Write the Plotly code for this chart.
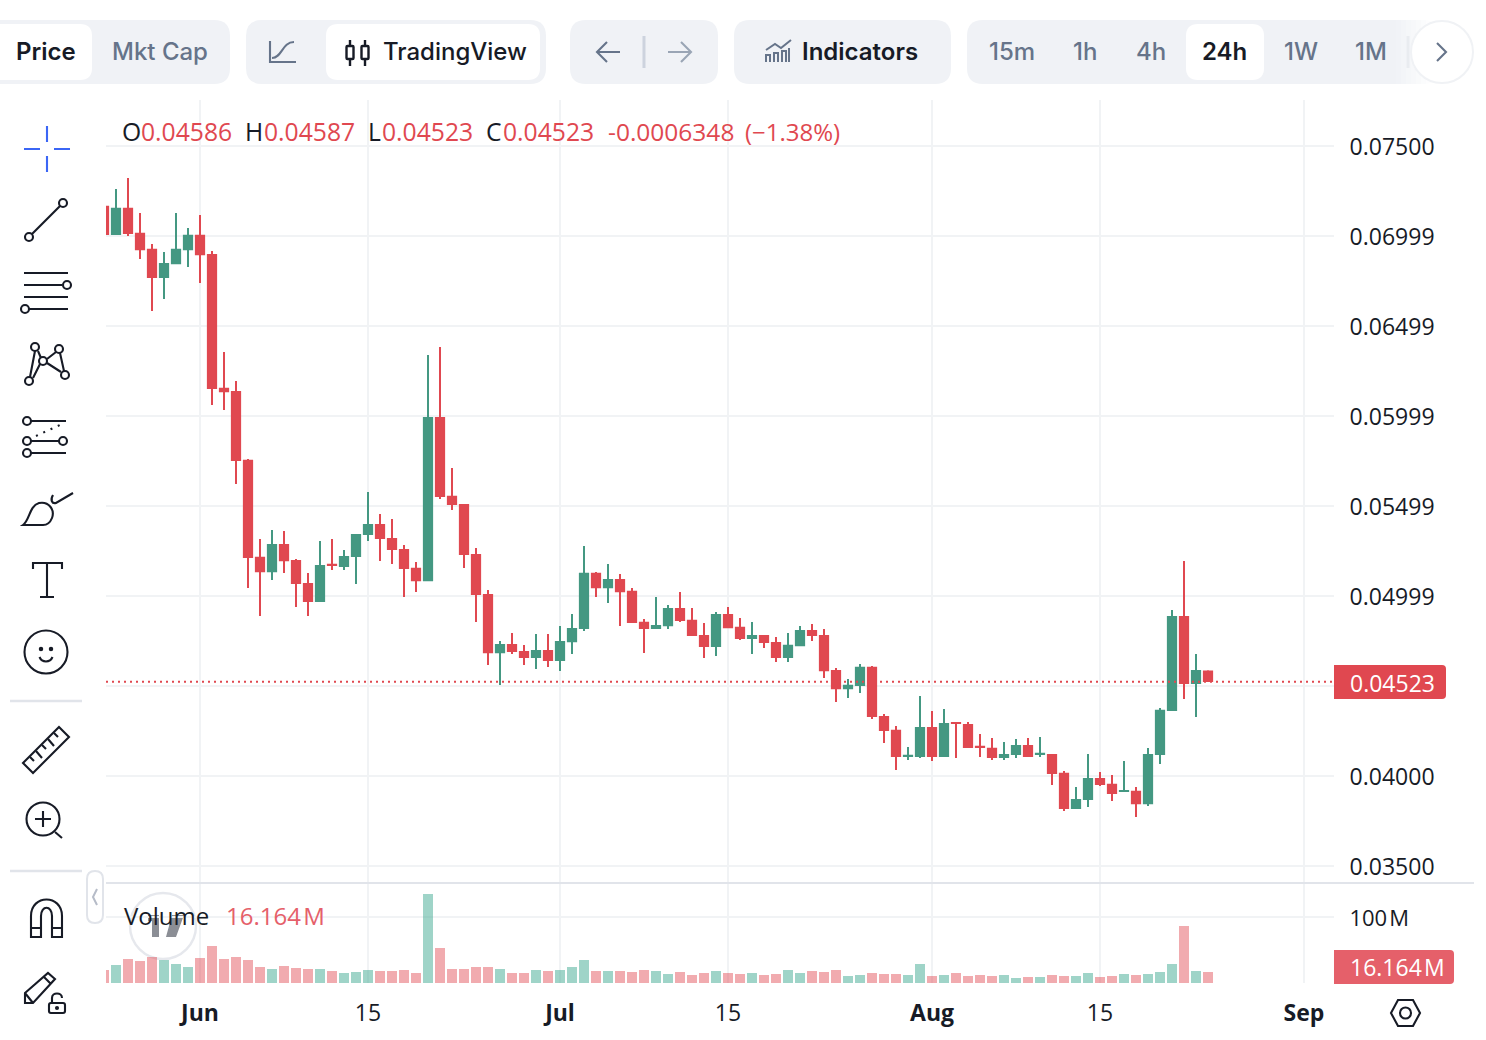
#!/usr/bin/env python3
"""Daily candlestick chart with a volume pane and the surrounding toolbar."""
import re

import numpy as np
import pandas as pd
import plotly.graph_objects as go
from plotly.subplots import make_subplots

WIDTH = 1486
HEIGHT = 1040

first_day = "2023-05-24"

opens = [
    0.07167, 0.07006, 0.07156, 0.07017, 0.06928, 0.06767, 0.06844, 0.06922, 0.07006, 0.06900,
    0.06156, 0.06139, 0.05756, 0.05217, 0.05133, 0.05289, 0.05200, 0.05072, 0.04967, 0.05178,
    0.05161, 0.05217, 0.05339, 0.05400, 0.05322, 0.05261, 0.05156, 0.05083, 0.05994, 0.05556,
    0.05511, 0.05233, 0.05011, 0.04683, 0.04733, 0.04694, 0.04656, 0.04700, 0.04639, 0.04744,
    0.04817, 0.05128, 0.05044, 0.05094, 0.05028, 0.04856, 0.04817, 0.04833, 0.04933, 0.04867,
    0.04783, 0.04717, 0.04900, 0.04828, 0.04761, 0.04783, 0.04744, 0.04656, 0.04722, 0.04811,
    0.04783, 0.04589, 0.04483, 0.04500, 0.04606, 0.04333, 0.04256, 0.04106, 0.04106, 0.04272,
    0.04106, 0.04300, 0.04289, 0.04167, 0.04156, 0.04100, 0.04117, 0.04172, 0.04117, 0.04122,
    0.04017, 0.03817, 0.03867, 0.03989, 0.03956, 0.03911, 0.03917, 0.03844, 0.04117, 0.04361,
    0.04889, 0.04511, 0.04586,
]
highs = [
    0.07167, 0.07261, 0.07322, 0.07128, 0.06956, 0.06911, 0.07128, 0.07044, 0.07117, 0.06917,
    0.06356, 0.06194, 0.05761, 0.05317, 0.05367, 0.05361, 0.05206, 0.05128, 0.05306, 0.05317,
    0.05256, 0.05344, 0.05578, 0.05456, 0.05428, 0.05283, 0.05189, 0.06339, 0.06383, 0.05711,
    0.05511, 0.05267, 0.05033, 0.04750, 0.04794, 0.04728, 0.04789, 0.04789, 0.04833, 0.04900,
    0.05278, 0.05133, 0.05178, 0.05122, 0.05044, 0.04872, 0.04994, 0.04950, 0.05022, 0.04933,
    0.04850, 0.04911, 0.04939, 0.04878, 0.04856, 0.04783, 0.04772, 0.04794, 0.04833, 0.04844,
    0.04817, 0.04600, 0.04539, 0.04622, 0.04611, 0.04344, 0.04278, 0.04161, 0.04444, 0.04361,
    0.04372, 0.04300, 0.04300, 0.04233, 0.04211, 0.04189, 0.04206, 0.04211, 0.04217, 0.04122,
    0.04028, 0.03939, 0.04122, 0.04022, 0.04006, 0.04083, 0.03939, 0.04156, 0.04378, 0.04922,
    0.05194, 0.04678, 0.04587,
]
lows = [
    0.07006, 0.07006, 0.07000, 0.06872, 0.06583, 0.06650, 0.06844, 0.06828, 0.06739, 0.06061,
    0.06033, 0.05622, 0.05044, 0.04889, 0.05089, 0.05128, 0.04939, 0.04889, 0.04967, 0.05144,
    0.05144, 0.05067, 0.05306, 0.05194, 0.05178, 0.04994, 0.05022, 0.05083, 0.05539, 0.05478,
    0.05156, 0.04856, 0.04617, 0.04506, 0.04678, 0.04617, 0.04594, 0.04606, 0.04583, 0.04678,
    0.04806, 0.04994, 0.04961, 0.04833, 0.04850, 0.04683, 0.04817, 0.04817, 0.04856, 0.04778,
    0.04656, 0.04667, 0.04822, 0.04756, 0.04678, 0.04711, 0.04633, 0.04633, 0.04722, 0.04750,
    0.04544, 0.04411, 0.04433, 0.04461, 0.04317, 0.04183, 0.04033, 0.04089, 0.04100, 0.04083,
    0.04106, 0.04100, 0.04156, 0.04106, 0.04089, 0.04089, 0.04100, 0.04106, 0.04106, 0.03950,
    0.03806, 0.03817, 0.03828, 0.03944, 0.03861, 0.03911, 0.03772, 0.03833, 0.04067, 0.04361,
    0.04428, 0.04328, 0.04523,
]
closes = [
    0.07006, 0.07156, 0.07011, 0.06922, 0.06767, 0.06850, 0.06928, 0.07006, 0.06894, 0.06150,
    0.06133, 0.05750, 0.05211, 0.05133, 0.05289, 0.05194, 0.05067, 0.04967, 0.05172, 0.05167,
    0.05222, 0.05344, 0.05400, 0.05317, 0.05256, 0.05150, 0.05083, 0.05994, 0.05550, 0.05506,
    0.05228, 0.05006, 0.04683, 0.04733, 0.04689, 0.04656, 0.04700, 0.04639, 0.04750, 0.04822,
    0.05128, 0.05044, 0.05094, 0.05022, 0.04850, 0.04817, 0.04839, 0.04933, 0.04861, 0.04778,
    0.04717, 0.04900, 0.04822, 0.04761, 0.04783, 0.04739, 0.04656, 0.04728, 0.04811, 0.04778,
    0.04583, 0.04483, 0.04506, 0.04606, 0.04328, 0.04250, 0.04106, 0.04117, 0.04272, 0.04106,
    0.04294, 0.04289, 0.04156, 0.04156, 0.04100, 0.04122, 0.04172, 0.04106, 0.04128, 0.04011,
    0.03817, 0.03872, 0.03989, 0.03950, 0.03900, 0.03922, 0.03844, 0.04122, 0.04367, 0.04889,
    0.04511, 0.04589, 0.04523,
]
# volume in millions
volumes = [
    19.7, 27.3, 36.4, 33.3, 39.4, 34.8, 28.8, 24.2, 37.9, 56.1,
    36.4, 39.4, 34.8, 24.2, 21.2, 25.8, 22.7, 21.2, 21.2, 18.2,
    15.2, 16.7, 19.7, 18.2, 18.2, 19.7, 15.2, 134.8, 53.0, 21.2,
    21.2, 24.2, 24.2, 21.2, 15.2, 15.2, 19.7, 18.2, 19.7, 24.2,
    34.8, 18.2, 18.2, 18.2, 16.7, 19.7, 18.2, 13.6, 16.7, 12.1,
    15.2, 18.2, 15.2, 13.6, 15.2, 12.1, 13.6, 19.7, 15.2, 18.2,
    16.7, 19.7, 10.6, 12.1, 15.2, 13.6, 13.6, 12.1, 28.8, 10.6,
    12.1, 15.2, 10.6, 12.1, 10.6, 12.1, 7.6, 9.1, 9.1, 12.1,
    10.6, 10.6, 15.2, 9.1, 10.6, 13.6, 12.1, 13.6, 16.7, 28.8,
    86.4, 18.2, 16.164,
]

price_ticks = [0.075, 0.07, 0.065, 0.06, 0.055, 0.05, 0.045, 0.04, 0.035]
price_labels = ["0.07500", "0.06999", "0.06499", "0.05999", "0.05499", "0.04999", "", "0.04000", "0.03500"]
date_ticks = ["2023-06-01", "2023-06-15", "2023-07-01", "2023-07-15", "2023-08-01", "2023-08-15", "2023-09-01"]
date_labels = ["<b>Jun</b>", "15", "<b>Jul</b>", "15", "<b>Aug</b>", "15", "<b>Sep</b>"]
last_price = 0.04523

TEAL = "#449882"
RED = "#E04850"
GRID = "#F1F3F5"
DARK = "#171B26"
MUTED = "#66748A"
PANEL = "#F0F2F6"
LINE = "#E1E4EA"
AXIS_FONT = "Open Sans"
UI_FONT = "Inter"

shapes = []
annotations = []


def px_path(d):
    """Turn an SVG path written in page pixels into paper coordinates."""
    def convert(m):
        return "{:.5f},{:.5f}".format(float(m[1]) / WIDTH, 1 - float(m[2]) / HEIGHT)
    return re.sub(r"(-?[\d.]+),(-?[\d.]+)", convert, d)


def path(d, color=DARK, width=2.1, fill=None, layer="above", dash=None):
    shapes.append(dict(
        type="path", xref="paper", yref="paper", path=px_path(d), layer=layer,
        line=dict(color=color, width=width, dash=dash), fillcolor=fill or "rgba(0,0,0,0)",
    ))


def box(x0, y0, x1, y1, r=0, fill=PANEL, color=None, width=0, layer="above", opacity=1):
    """Rounded rectangle; r can be a single radius."""
    d = ("M{a},{t} L{b},{t} Q{x1},{y0} {x1},{c} L{x1},{e} Q{x1},{y1} {b},{y1} "
         "L{a},{y1} Q{x0},{y1} {x0},{e} L{x0},{c} Q{x0},{y0} {a},{t} Z").format(
        a=x0 + r, b=x1 - r, t=y0, x0=x0, x1=x1, y0=y0, y1=y1, c=y0 + r, e=y1 - r)
    shapes.append(dict(
        type="path", xref="paper", yref="paper", path=px_path(d), layer=layer, opacity=opacity,
        line=dict(color=color or "rgba(0,0,0,0)", width=width), fillcolor=fill,
    ))


def circle(cx, cy, r, color=DARK, width=2.1, fill=None, layer="above"):
    shapes.append(dict(
        type="circle", xref="paper", yref="paper", layer=layer,
        x0=(cx - r) / WIDTH, x1=(cx + r) / WIDTH,
        y0=1 - (cy + r) / HEIGHT, y1=1 - (cy - r) / HEIGHT,
        line=dict(color=color, width=width), fillcolor=fill or "rgba(0,0,0,0)",
    ))


def label(x, y, text, size=24, color=DARK, family=UI_FONT, weight=None, anchor="left"):
    # annotations carry about 2px of padding on the left
    annotations.append(dict(
        xref="paper", yref="paper", x=(x - 2) / WIDTH, y=1 - y / HEIGHT, text=text,
        xanchor=anchor, yanchor="middle", showarrow=False,
        font=dict(size=size, color=color, family=family, weight=weight),
    ))


days = pd.date_range(first_day, periods=len(opens))

# The candle outline adds a pixel around each body, take it back off
inset = 0.00005
o = np.array(opens)
c = np.array(closes)
direction = np.sign(c - o)
body_open = o + direction * inset
body_close = c - direction * inset
bar_colors = ["rgba(64,170,145,0.5)" if d > 0 else "rgba(224,72,80,0.46)" for d in direction]

fig = make_subplots(rows=2, cols=1, shared_xaxes=True)

fig.add_trace(
    go.Candlestick(
        x=days, open=body_open, high=highs, low=lows, close=body_close,
        increasing=dict(line=dict(color=TEAL, width=2), fillcolor=TEAL),
        decreasing=dict(line=dict(color=RED, width=2), fillcolor=RED),
        whiskerwidth=0,
    ),
    row=1, col=1,
)
fig.add_trace(
    go.Bar(x=days, y=volumes, marker=dict(color=bar_colors, line=dict(width=0)), width=86400000 * 10 / 12),
    row=2, col=1,
)

# Toolbar
box(-14, 20, 230, 84, 16)
box(-10, 24, 92, 80, 12, fill="white")
label(16, 51.5, "Price", weight=600)
label(112, 51.5, "Mkt Cap", color=MUTED, weight=500)

box(246, 20, 546, 84, 16)
box(326, 24, 540, 80, 12, fill="white")
path("M270,41 L270,62 L296,62", color=MUTED)
path("M272,58 C282,58 282,42 294,42", color=MUTED)
path("M350,40 L350,66 M365,40 L365,66", width=2.4)
box(346.5, 46, 353.5, 59, 1, fill="white", color=DARK, width=2.4)
box(361.5, 46, 368.5, 59, 1, fill="white", color=DARK, width=2.4)
label(383, 51.5, "TradingView", weight=500)

box(570, 20, 718, 84, 16)
path("M620,52 L597,52 M607,42 L597,52 L607,62", color=MUTED)
path("M644,36 L644,68", color="#CDD3DE", width=3)
path("M668,52 L691,52 M681,42 L691,52 L681,62", color="#9AA5B5")

box(734, 20, 951, 84, 16)
path("M766,50 L775,44 L781,48 L791,40", color=MUTED, width=2)
path("M766,62 L766,55 L770,55 L770,62 M774,62 L774,53 L778,53 L778,62 "
     "M782,62 L782,51 L786,51 L786,62 M789,62 L789,48", color=MUTED, width=2)
label(802, 51.5, "Indicators", weight=600)

box(967, 20, 1440, 84, 16)
box(1186, 24, 1264, 80, 12, fill="white")
label(989, 51.5, "15m", color=MUTED, weight=500)
label(1073, 51.5, "1h", color=MUTED, weight=500)
label(1136, 51.5, "4h", color=MUTED, weight=500)
label(1202, 51.5, "24h", weight=600)
label(1284, 51.5, "1W", color=MUTED, weight=500)
label(1355, 51.5, "1M", color=MUTED, weight=500)
path("M1408,36 L1408,68", color="#DDE1E8", width=3)
# fade out on the right of the timeframe strip
for i in range(8):
    box(1396 + i * 5, 18, 1401 + i * 5, 86, fill="white", opacity=0.12 + i * 0.12)
circle(1442, 52, 31, color="#F0F2F5", width=2, fill="white")
path("M1437,43 L1446,52 L1437,61", color=MUTED)

# OHLC readout
label(122, 131.5, "O", 24.7, family=AXIS_FONT)
label(141, 131.5, "0.04586", 24.7, RED, AXIS_FONT)
label(245, 131.5, "H", 24.7, family=AXIS_FONT)
label(264, 131.5, "0.04587", 24.7, RED, AXIS_FONT)
label(368, 131.5, "L", 24.7, family=AXIS_FONT)
label(382, 131.5, "0.04523", 24.7, RED, AXIS_FONT)
label(486, 131.5, "C", 24.7, family=AXIS_FONT)
label(503, 131.5, "0.04523", 24.7, RED, AXIS_FONT)
label(608, 131.5, "-0.0006348", 24.5, RED, AXIS_FONT)
label(745, 131.5, "(\u22121.38%)", 24, RED, AXIS_FONT)

# Left tool column
path("M24,149 L40,149 M54,149 L70,149 M47,126 L47,142 M47,156 L47,172", color="#3B66F5")

path("M32,234 L60,206")
circle(29, 237, 4)
circle(63, 203, 4)

path("M24,273 L68,273 M24,285 L62,285 M24,297 L68,297 M29,309 L68,309")
circle(67, 285, 4)
circle(25, 309, 4)

path("M35,351 L30,377 M33,378 L40,364 M38,351 L41,358 M47,359 L56,352 M47,363 L61,372 M60,353 L64,371")
circle(35, 347, 4)
circle(59, 349, 4)
circle(43, 361, 4)
circle(65, 375, 4)
circle(29, 381, 4)

path("M31,421 L66,421 M31,441 L59,441 M31,453 L66,453")
path("M36,436 L62,424", dash="2px,6px")
circle(27, 421, 4)
circle(27, 441, 4)
circle(63, 441, 4)
circle(27, 453, 4)

path("M53,495 C50,500 52,504 56,503 L73,493")
path("M23,525 C30,520 29,506 39,503 C49,501 55,510 52,518 C50,523 47,525 43,525 Z")

path("M33,569 L33,563 L62,563 L62,569 M47,563 L47,597 M40,597 L54,597")

circle(46, 652, 21.5)
circle(41, 649, 1.2, fill=DARK)
circle(51, 649, 1.2, fill=DARK)
path("M39.5,657 C42,663 50,663 52.5,657")

path("M10,701 L82,701", color=LINE, width=2.4)

path("M23,763 L59,727 L69,737 L33,773 Z")
path("M30,757 L34,761 M36,751 L42,758 M42,745 L46,749 M48,739 L54,746 M54,733 L58,737")

circle(43, 819, 16.5)
path("M35,819 L51,819 M43,811 L43,827")
path("M55,832 L62,838")

path("M10,871 L82,871", color=LINE, width=2.4)

path("M31,937 L31,916 C31,894 62,894 62,916 L62,937 L52,937 L52,916 C52,905 41,905 41,916 L41,937 Z")
path("M31,928 L41,928 M52,928 L62,928")

path("M25,993 L48,973 L55,979 L33,1003 L25,1003 Z M44,977 L51,984 M25,993 L33,1003")
box(49, 1003, 65, 1013, 2, fill="white", color=DARK, width=2.1)
path("M52,1003 L52,998 C52,992 62,992 62,998")
circle(57, 1008, 1, fill=DARK)

# Collapse handle
box(87, 871, 103, 923, 8, fill="white", color=LINE, width=2)
path("M97,889 L93,897 L97,905", color="#B6BCC8", width=2)

# Watermark, under the bars
circle(163, 926, 33, color="#E6E8ED", width=2.4, fill="white", layer="below")
path("M148,915 L159,915 L159,937 L152,937 L152,921 L148,921 Z M172,915 L184,915 L176,937 L166,937 Z",
     color="rgba(0,0,0,0)", width=0, fill="#8B8E95", layer="below")

# Pane separator
path("M106,883 L1474,883", color=LINE, width=2)

# Last price line and tags
shapes.append(dict(
    type="line", xref="paper", yref="y", x0=106 / WIDTH, x1=1334 / WIDTH, y0=last_price, y1=last_price,
    line=dict(color=RED, width=2, dash="2px,4px"), layer="above",
))
path("M1334,665 L1442,665 Q1446,665 1446,669 L1446,695 Q1446,699 1442,699 L1334,699 Z",
     color="rgba(0,0,0,0)", width=0, fill=RED)
label(1350, 682.5, "0.04523", 23, "white", AXIS_FONT)
path("M1334,950 L1450,950 Q1454,950 1454,954 L1454,980 Q1454,984 1450,984 L1334,984 Z",
     color="rgba(0,0,0,0)", width=0, fill="#E5606A")
label(1350, 966.5, "16.164\u200aM", 23, "white", AXIS_FONT)

# Volume readout
label(124, 915, "Volume", 24, family=AXIS_FONT)
label(226, 915, "16.164\u200aM", 24, "#E5606A", AXIS_FONT)

# Settings button
path("M1391,1013 L1398,1000 L1413,1000 L1420,1013 L1413,1026 L1398,1026 Z")
circle(1405.5, 1013, 5.5)

start = pd.Timestamp(date_ticks[0]) - pd.Timedelta(days=94 / 12)
end = pd.Timestamp(date_ticks[0]) + pd.Timedelta(days=1134 / 12)

x_domain = [106 / WIDTH, 1334 / WIDTH]
for row in (1, 2):
    fig.update_xaxes(
        row=row, col=1, domain=x_domain, range=[start, end], type="date",
        tickmode="array", tickvals=date_ticks, ticktext=date_labels,
        showgrid=True, gridcolor=GRID, gridwidth=1.6, zeroline=False, showline=False,
        rangeslider_visible=False, fixedrange=True,
    )
fig.update_xaxes(row=1, col=1, showticklabels=False, ticks="")
fig.update_xaxes(
    row=2, col=1, ticks="outside", ticklen=9, tickcolor="rgba(0,0,0,0)",
    tickfont=dict(size=23, color=DARK, family=AXIS_FONT),
)

fig.update_yaxes(
    row=1, col=1, side="right", domain=[1 - 883 / HEIGHT, 1 - 100 / HEIGHT],
    range=[(1496 - 883) / 18000, (1496 - 100) / 18000],
    tickmode="array", tickvals=price_ticks, ticktext=price_labels,
    showgrid=True, gridcolor=GRID, gridwidth=1.6, zeroline=False, showline=False,
    ticks="outside", ticklen=10, tickcolor="rgba(0,0,0,0)", ticklabelshift=1,
    tickfont=dict(size=23, color=DARK, family=AXIS_FONT), fixedrange=True,
)
fig.update_yaxes(
    row=2, col=1, side="right", domain=[1 - 983 / HEIGHT, 1 - 884 / HEIGHT],
    range=[0, 150], tickmode="array", tickvals=[100], ticktext=["100\u200aM"],
    showgrid=True, gridcolor=GRID, gridwidth=1.6, zeroline=False, showline=False,
    ticks="outside", ticklen=10, tickcolor="rgba(0,0,0,0)", ticklabelshift=1,
    tickfont=dict(size=22, color=DARK, family=AXIS_FONT), fixedrange=True,
)

fig.update_layout(
    width=WIDTH, height=HEIGHT, autosize=False,
    margin=dict(l=0, r=0, t=0, b=0),
    paper_bgcolor="white", plot_bgcolor="white",
    showlegend=False, bargap=0, boxgap=0.02,
    shapes=shapes, annotations=annotations,
)

fig.write_html("out.html", config={"displayModeBar": False}, post_script="document.body.style.margin='0';")
